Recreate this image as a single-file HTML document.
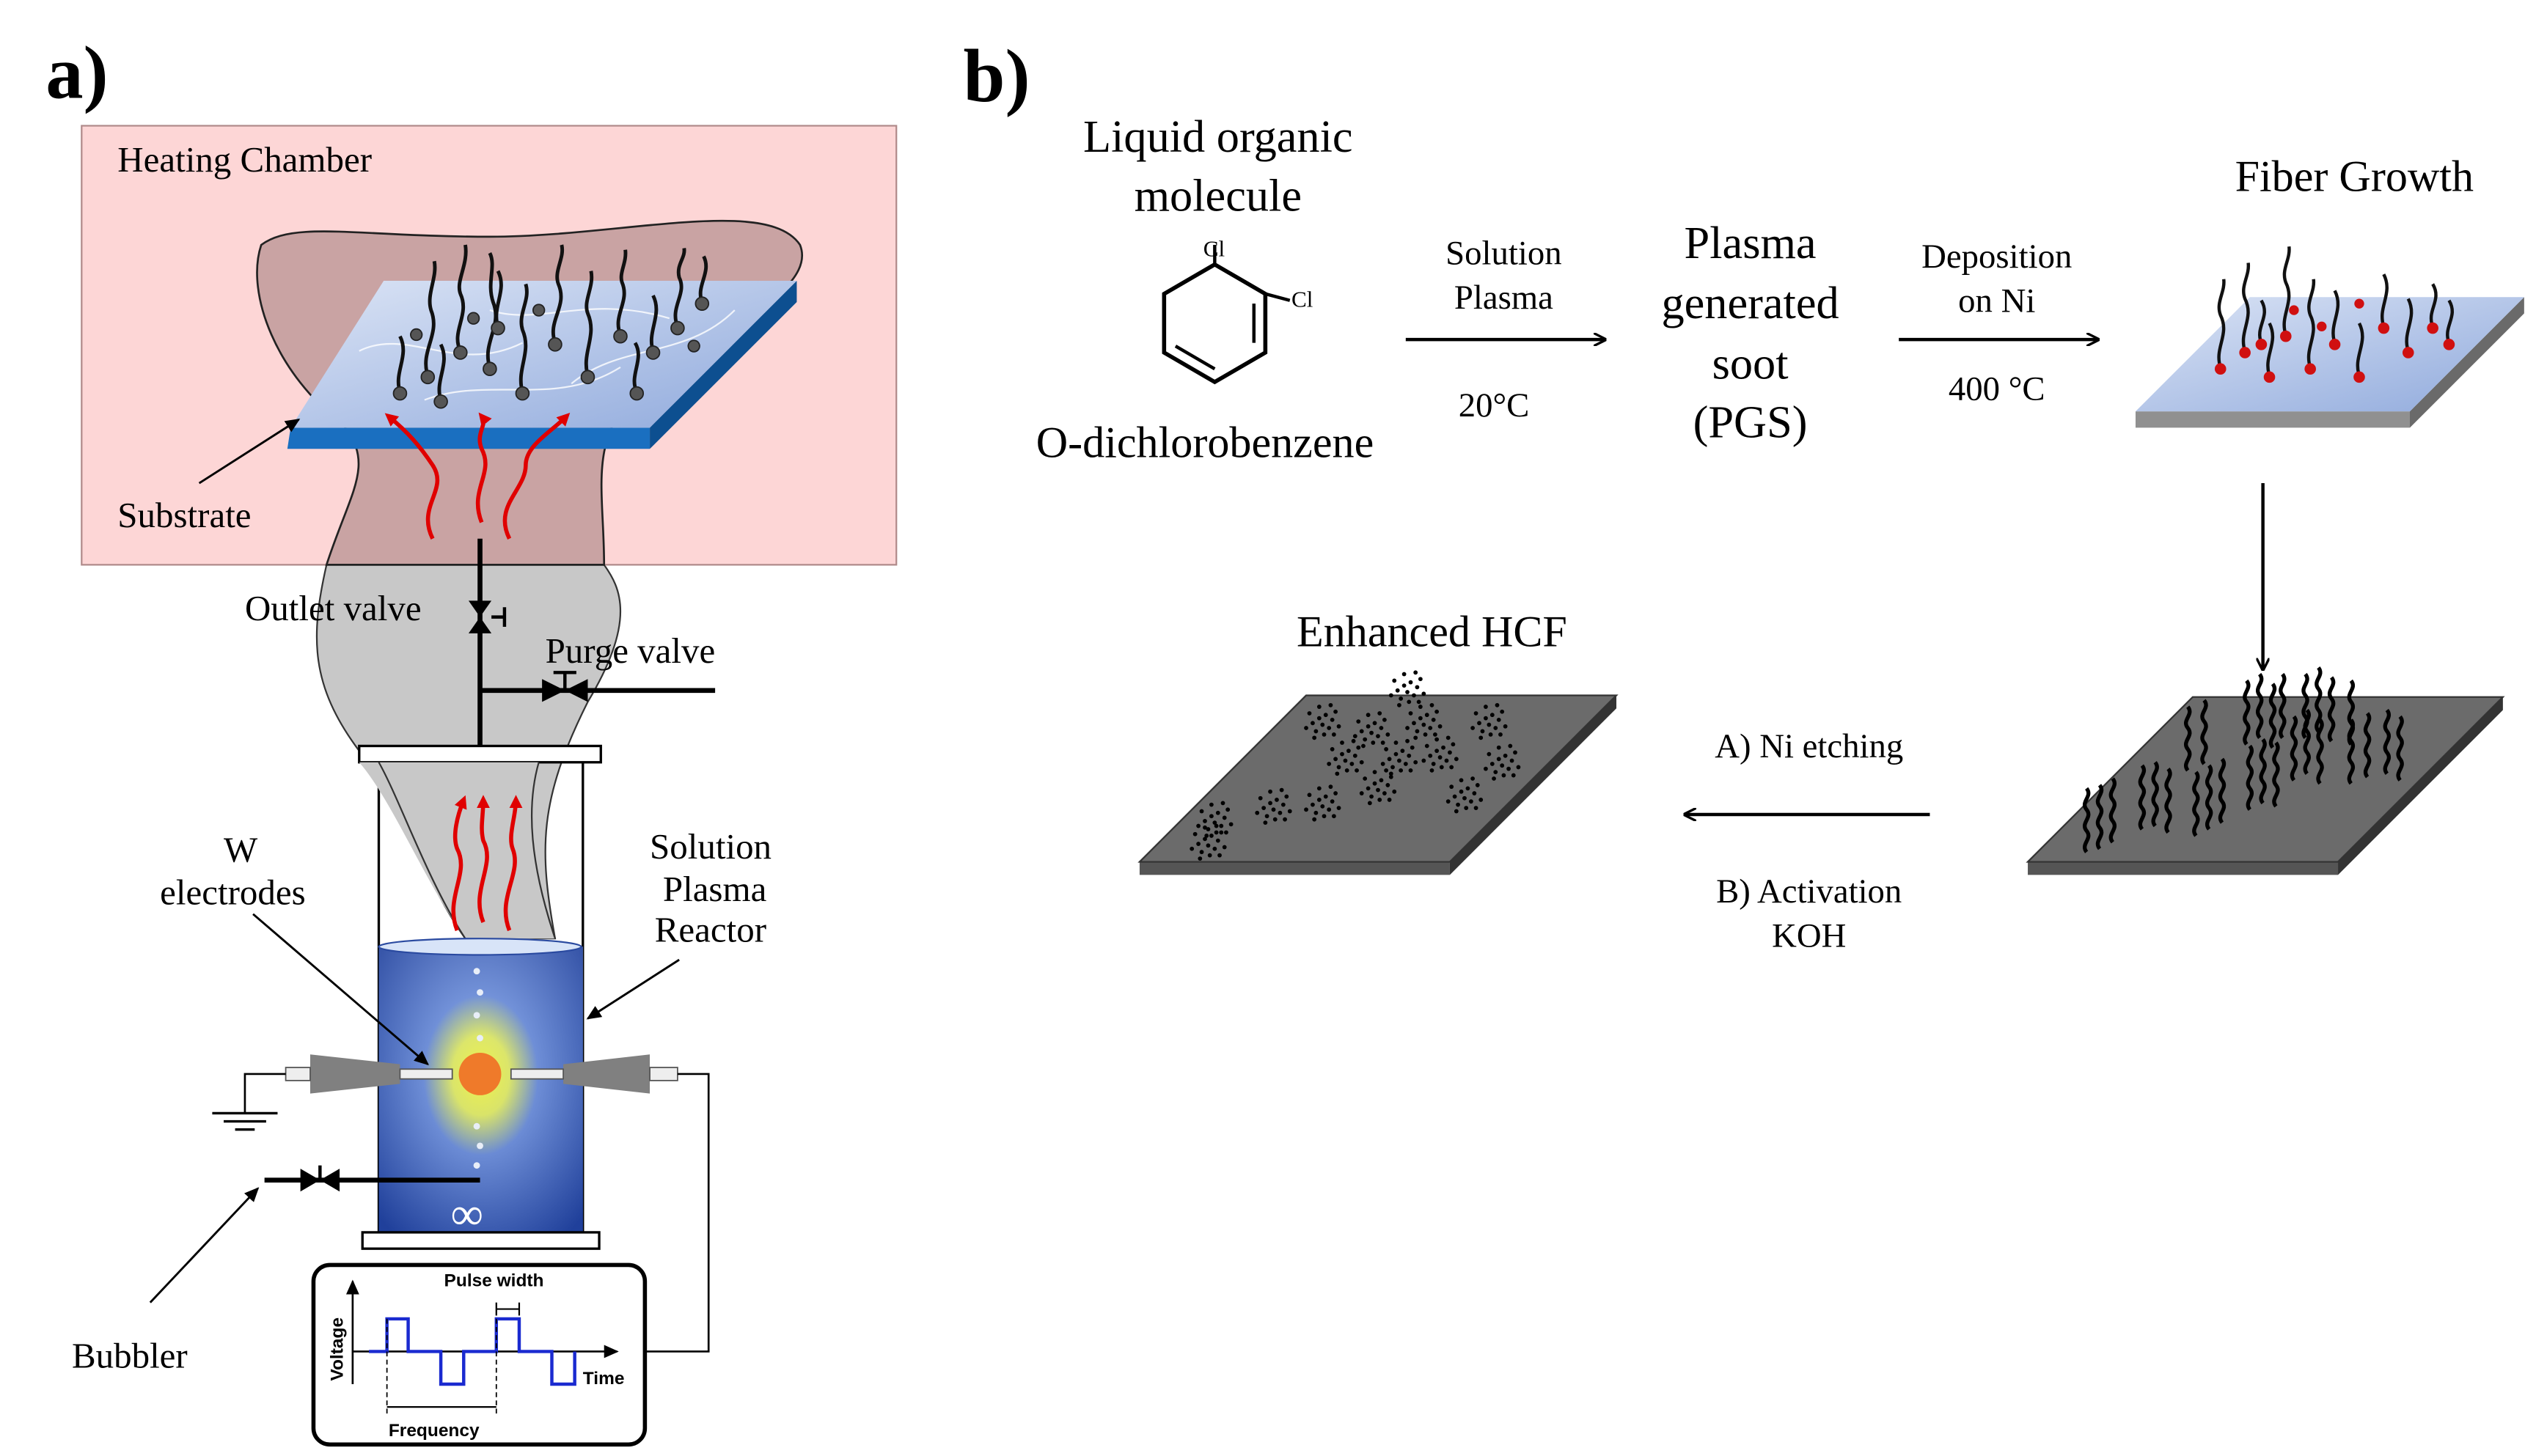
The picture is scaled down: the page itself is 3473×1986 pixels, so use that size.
<!DOCTYPE html>
<html><head><meta charset="utf-8"><style>
html,body{margin:0;padding:0;background:#fff;}
svg{display:block;}
text{font-family:"Liberation Serif",serif;fill:#000;}
</style></head><body>
<svg width="3473" height="1986" viewBox="0 0 1560 892" xmlns="http://www.w3.org/2000/svg">
<defs>
<linearGradient id="sub" x1="0" y1="0" x2="1" y2="1"><stop offset="0" stop-color="#dbe4f5"/><stop offset="1" stop-color="#8fa9dc"/></linearGradient>
<radialGradient id="liq" cx="0.5" cy="0.45" r="0.7"><stop offset="0" stop-color="#ffff40"/><stop offset="0.2" stop-color="#e8f060"/><stop offset="0.4" stop-color="#6f8fd8"/><stop offset="1" stop-color="#1f3f9a"/></radialGradient>
<linearGradient id="liqtop" x1="0" y1="0" x2="0" y2="1"><stop offset="0" stop-color="#c8d4f0"/><stop offset="0.3" stop-color="#6f8fd0"/><stop offset="1" stop-color="#2a4aa0"/></linearGradient>
<marker id="ah" markerWidth="8" markerHeight="8" refX="7" refY="4" orient="auto" markerUnits="userSpaceOnUse"><path d="M0,0 L8,4 L0,8" fill="none" stroke="#000" stroke-width="1.5"/></marker>
<marker id="ahr" markerWidth="10" markerHeight="10" refX="5" refY="5" orient="auto" markerUnits="userSpaceOnUse"><path d="M0,1 L8,5 L0,9 z" fill="#e00000"/></marker>
<marker id="ahs" markerWidth="10" markerHeight="10" refX="8" refY="5" orient="auto" markerUnits="userSpaceOnUse"><path d="M0,1 L9,5 L0,9 z" fill="#000"/></marker>
<g id="cl" fill="#000"><circle cx="0" cy="0" r="1.3"/><circle cx="4" cy="-2" r="1.3"/><circle cx="8" cy="1" r="1.3"/><circle cx="-4" cy="3" r="1.3"/><circle cx="2" cy="4" r="1.3"/><circle cx="6" cy="6" r="1.3"/><circle cx="-2" cy="8" r="1.3"/><circle cx="10" cy="-4" r="1.3"/><circle cx="-6" cy="-3" r="1.3"/><circle cx="3" cy="10" r="1.3"/><circle cx="-8" cy="6" r="1.3"/><circle cx="12" cy="5" r="1.3"/><circle cx="0" cy="-7" r="1.3"/><circle cx="7" cy="-8" r="1.3"/><circle cx="-3" cy="12" r="1.3"/><circle cx="9" cy="10" r="1.3"/></g>
<path id="fb" d="M0,0 c-4,-5 4,-8 0,-13 c-4,-5 4,-8 0,-13 c-4,-5 4,-8 0,-13" fill="none" stroke="#000" stroke-width="2.4"/>
</defs>
<text x="28" y="60" font-size="46" font-weight="bold">a)</text>
<text x="590" y="62" font-size="46" font-weight="bold">b)</text>

<path d="M200,346 C190,390 190,420 220,460 C250,500 260,540 285,575 L340,575 C330,520 330,490 360,430 C390,380 380,360 370,346 Z" fill="#c8c8c8" stroke="#333" stroke-width="1"/>
<rect x="50" y="77" width="499" height="269" fill="#fdd6d6" stroke="#b08a8a" stroke-width="1"/>
<text x="72" y="105" font-size="22">Heating Chamber</text>
<path d="M200,346 C215,300 230,285 210,260 C170,230 150,180 160,150 C180,135 220,145 300,145 C380,145 470,120 490,150 C500,175 450,200 390,240 C360,270 370,300 370,346 Z" fill="#c9a3a3" stroke="#222" stroke-width="1.2"/>
<polygon points="178,262 398,262 398,275 176,275" fill="#1a6fc0"/>
<polygon points="398,262 488,172 488,185 398,275" fill="#0d4f90"/>
<polygon points="235,172 488,172 398,262 178,262" fill="url(#sub)"/>
<g stroke="#fff" stroke-width="1" fill="none" opacity="0.8">
<path d="M220,215 C250,200 280,230 320,210 M260,245 C300,230 340,250 380,225 M300,190 C330,200 360,180 410,195 M350,235 C380,210 420,220 450,190"/>
</g>
<g stroke="#111" stroke-width="2.2" fill="none">
<path d="M262,230 c-5,-15 8,-25 2,-40 c-3,-10 4,-20 2,-30"/>
<path d="M282,215 c-6,-12 6,-22 0,-35 c-3,-8 5,-18 3,-30"/>
<path d="M300,225 c-5,-15 8,-25 2,-40 c-4,-12 2,-22 -2,-30"/>
<path d="M320,240 c-4,-14 6,-24 0,-38 c-3,-10 5,-18 2,-28"/>
<path d="M340,210 c-5,-14 8,-22 2,-36 c-3,-8 4,-16 2,-24"/>
<path d="M245,240 c-4,-12 6,-22 0,-34"/>
<path d="M360,230 c-4,-14 6,-24 0,-38 c-3,-8 4,-16 2,-26"/>
<path d="M380,205 c-5,-12 6,-20 1,-32 c-2,-6 3,-12 2,-20"/>
<path d="M400,215 c-4,-12 6,-22 0,-34"/>
<path d="M415,200 c-5,-12 6,-20 1,-30 c-2,-8 4,-12 3,-18"/>
<path d="M430,185 c-4,-10 6,-18 1,-28"/>
<path d="M305,200 c-4,-12 6,-22 0,-34"/>
<path d="M270,245 c-4,-12 6,-22 0,-34"/>
<path d="M390,240 c-5,-10 5,-20 -1,-30"/>
</g>
<g fill="#555" stroke="#222" stroke-width="0.8">
<circle cx="262" cy="231" r="4"/><circle cx="282" cy="216" r="4"/><circle cx="300" cy="226" r="4"/><circle cx="320" cy="241" r="4"/><circle cx="340" cy="211" r="4"/><circle cx="245" cy="241" r="4"/><circle cx="360" cy="231" r="4"/><circle cx="380" cy="206" r="4"/><circle cx="400" cy="216" r="4"/><circle cx="415" cy="201" r="4"/><circle cx="430" cy="186" r="4"/><circle cx="305" cy="201" r="4"/><circle cx="270" cy="246" r="4"/><circle cx="390" cy="241" r="4"/><circle cx="255" cy="205" r="3.5"/><circle cx="330" cy="190" r="3.5"/><circle cx="425" cy="212" r="3.5"/><circle cx="290" cy="195" r="3.5"/>
</g>
<text x="72" y="323" font-size="22">Substrate</text>
<line x1="122" y1="296" x2="183" y2="257" stroke="#000" stroke-width="1.3" marker-end="url(#ahs)"/>
<g stroke="#e00000" stroke-width="2.5" fill="none" marker-end="url(#ahr)">
<path d="M265,330 c-10,-20 10,-30 0,-45 c-8,-12 -15,-20 -27,-30"/>
<path d="M295,320 c-8,-20 8,-30 0,-45 c-4,-10 4,-15 0,-20"/>
<path d="M312,330 c-10,-20 10,-30 10,-45 c0,-12 15,-20 25,-30"/>
</g>
<line x1="294" y1="330" x2="294" y2="468" stroke="#000" stroke-width="3"/>
<polygon points="287,368 301,368 294,378" fill="#000"/><polygon points="287,388 301,388 294,378" fill="#000"/>
<line x1="301" y1="378" x2="309" y2="378" stroke="#000" stroke-width="2"/><line x1="309" y1="372" x2="309" y2="384" stroke="#000" stroke-width="2"/>
<text x="150" y="380" font-size="22">Outlet valve</text>
<line x1="294" y1="423" x2="438" y2="423" stroke="#000" stroke-width="3"/>
<polygon points="332,416 332,430 346,423" fill="#000"/><polygon points="360,416 360,430 346,423" fill="#000"/>
<line x1="346" y1="423" x2="346" y2="412" stroke="#000" stroke-width="2"/><line x1="339" y1="412" x2="353" y2="412" stroke="#000" stroke-width="2"/>
<text x="334" y="406" font-size="22">Purge valve</text>
<rect x="287" y="466" width="14" height="12" fill="#000"/>
<rect x="220" y="457" width="148" height="10" fill="#fff" stroke="#000" stroke-width="1.5"/>
<line x1="232" y1="467" x2="232" y2="755" stroke="#000" stroke-width="1.5"/>
<line x1="357" y1="467" x2="357" y2="755" stroke="#000" stroke-width="1.5"/>
<path d="M220,467 C240,490 260,540 285,575 L340,575 C325,530 322,495 330,467 Z" fill="#c8c8c8"/>
<path d="M232,467 C245,490 262,540 285,575" fill="none" stroke="#333" stroke-width="1"/>
<path d="M340,575 C325,530 322,495 330,467" fill="none" stroke="#333" stroke-width="1"/>
<g stroke="#e00000" stroke-width="2.5" fill="none" marker-end="url(#ahr)">
<path d="M280,570 c-8,-20 8,-35 0,-50 c-3,-8 0,-20 4,-30"/>
<path d="M296,565 c-8,-20 8,-35 0,-50 c-2,-8 0,-15 0,-25"/>
<path d="M312,570 c-8,-20 8,-35 2,-50 c-3,-8 2,-20 2,-30"/>
</g>
<rect x="232" y="580" width="125" height="175" fill="url(#liqtop)"/>
<rect x="232" y="580" width="125" height="175" fill="url(#liq)" opacity="0.9"/>
<ellipse cx="294" cy="580" rx="62" ry="5" fill="#d8e4f8" stroke="#2a4aa0" stroke-width="1"/>
<g fill="#e8eef8"><circle cx="292" cy="595" r="2"/><circle cx="294" cy="608" r="2"/><circle cx="292" cy="622" r="2"/><circle cx="294" cy="636" r="2"/><circle cx="292" cy="690" r="2"/><circle cx="294" cy="702" r="2"/><circle cx="292" cy="714" r="2"/></g>
<circle cx="294" cy="658" r="13" fill="#ef7a2a"/>
<text x="276" y="753" font-size="28" style="fill:#fff">∞</text>
<rect x="222" y="755" width="145" height="10" fill="#fff" stroke="#000" stroke-width="1.5"/>
<polygon points="190,646 245,652 245,664 190,670" fill="#808080"/>
<rect x="245" y="655" width="32" height="6" fill="#eee" stroke="#555" stroke-width="0.8"/>
<rect x="175" y="654" width="15" height="8" fill="#eee" stroke="#555" stroke-width="0.8"/>
<polygon points="398,646 345,652 345,664 398,670" fill="#808080"/>
<rect x="313" y="655" width="32" height="6" fill="#eee" stroke="#555" stroke-width="0.8"/>
<rect x="398" y="654" width="17" height="8" fill="#eee" stroke="#555" stroke-width="0.8"/>
<path d="M175,658 H150 V682" fill="none" stroke="#000" stroke-width="1.2"/>
<line x1="130" y1="682" x2="170" y2="682" stroke="#000" stroke-width="1.5"/>
<line x1="137" y1="687" x2="163" y2="687" stroke="#000" stroke-width="1.5"/>
<line x1="144" y1="692" x2="156" y2="692" stroke="#000" stroke-width="1.5"/>
<path d="M415,658 H434 V828 H396" fill="none" stroke="#000" stroke-width="1.2"/>
<line x1="162" y1="723" x2="294" y2="723" stroke="#000" stroke-width="3"/>
<polygon points="184,716 184,730 196,723" fill="#000"/><polygon points="208,716 208,730 196,723" fill="#000"/>
<line x1="196" y1="723" x2="196" y2="714" stroke="#000" stroke-width="2"/>
<line x1="92" y1="798" x2="158" y2="728" stroke="#000" stroke-width="1.3" marker-end="url(#ahs)"/>
<text x="44" y="838" font-size="22">Bubbler</text>
<text x="137" y="528" font-size="22">W</text>
<text x="98" y="554" font-size="22">electrodes</text>
<line x1="155" y1="560" x2="262" y2="652" stroke="#000" stroke-width="1.3" marker-end="url(#ahs)"/>
<text x="398" y="526" font-size="22">Solution</text>
<text x="406" y="552" font-size="22">Plasma</text>
<text x="401" y="577" font-size="22">Reactor</text>
<line x1="416" y1="588" x2="360" y2="624" stroke="#000" stroke-width="1.3" marker-end="url(#ahs)"/>
<rect x="192" y="775" width="203" height="110" rx="10" fill="#fff" stroke="#000" stroke-width="2.5"/>
<line x1="216" y1="848" x2="216" y2="785" stroke="#000" stroke-width="1.2" marker-end="url(#ahs)"/>
<line x1="216" y1="828" x2="378" y2="828" stroke="#000" stroke-width="1.2" marker-end="url(#ahs)"/>
<path d="M226,828 H237 V808 H250 V828 H270 V848 H284 V828 H304 V808 H318 V828 H338 V848 H352 V828" fill="none" stroke="#1a2ad0" stroke-width="2"/>
<g stroke="#000" stroke-dasharray="3,2" stroke-width="0.8"><line x1="237" y1="808" x2="237" y2="866"/><line x1="304" y1="808" x2="304" y2="866"/></g>
<line x1="237" y1="862" x2="304" y2="862" stroke="#000" stroke-width="1"/>
<line x1="304" y1="802" x2="318" y2="802" stroke="#000" stroke-width="1"/><line x1="304" y1="798" x2="304" y2="806" stroke="#000"/><line x1="318" y1="798" x2="318" y2="806" stroke="#000"/>
<g font-weight="bold" font-size="11">
<text x="272" y="788" style="font-family:'Liberation Sans',sans-serif">Pulse width</text>
<text x="238" y="880" style="font-family:'Liberation Sans',sans-serif">Frequency</text>
<text x="357" y="848" style="font-family:'Liberation Sans',sans-serif">Time</text>
<text transform="translate(210,846) rotate(-90)" style="font-family:'Liberation Sans',sans-serif">Voltage</text>
</g>

<text x="746" y="93" font-size="28" text-anchor="middle">Liquid organic</text>
<text x="746" y="129" font-size="28" text-anchor="middle">molecule</text>
<polygon points="744,162 775,180 775,216 744,234 713,216 713,180" fill="none" stroke="#000" stroke-width="2.5"/>
<line x1="768" y1="186" x2="768" y2="210" stroke="#000" stroke-width="2"/>
<line x1="720" y1="212" x2="744" y2="226" stroke="#000" stroke-width="2"/>
<line x1="744" y1="162" x2="744" y2="150" stroke="#000" stroke-width="2"/>
<line x1="775" y1="180" x2="790" y2="184" stroke="#000" stroke-width="2"/>
<text x="737" y="157" font-size="14">Cl</text><text x="791" y="188" font-size="14">Cl</text>
<text x="738" y="280" font-size="27" text-anchor="middle">O-dichlorobenzene</text>
<text x="921" y="162" font-size="21" text-anchor="middle">Solution</text>
<text x="921" y="189" font-size="21" text-anchor="middle">Plasma</text>
<line x1="861" y1="208" x2="983" y2="208" stroke="#000" stroke-width="2" marker-end="url(#ah)"/>
<text x="915" y="255" font-size="21" text-anchor="middle">20°C</text>
<text x="1072" y="158" font-size="28" text-anchor="middle">Plasma</text>
<text x="1072" y="195" font-size="28" text-anchor="middle">generated</text>
<text x="1072" y="232" font-size="28" text-anchor="middle">soot</text>
<text x="1072" y="268" font-size="28" text-anchor="middle">(PGS)</text>
<text x="1223" y="164" font-size="21" text-anchor="middle">Deposition</text>
<text x="1223" y="191" font-size="21" text-anchor="middle">on Ni</text>
<line x1="1163" y1="208" x2="1285" y2="208" stroke="#000" stroke-width="2" marker-end="url(#ah)"/>
<text x="1223" y="245" font-size="21" text-anchor="middle">400 °C</text>
<text x="1442" y="117" font-size="27" text-anchor="middle">Fiber Growth</text>
<polygon points="1308,252 1476,252 1476,262 1308,262" fill="#909090"/>
<polygon points="1476,252 1546,182 1546,192 1476,262" fill="#6a6a6a"/>
<polygon points="1378,182 1546,182 1476,252 1308,252" fill="url(#sub)"/>
<g stroke="#111" stroke-width="2" fill="none">
<path d="M1360,225 c-4,-12 6,-20 0,-32 c-3,-8 3,-14 2,-22"/><path d="M1375,215 c-4,-12 6,-20 0,-32 c-3,-8 3,-14 2,-22"/><path d="M1390,230 c-4,-12 6,-20 0,-32"/><path d="M1400,205 c-4,-12 6,-20 0,-32 c-3,-8 3,-14 2,-22"/><path d="M1415,225 c-4,-12 6,-20 0,-32 c-3,-8 3,-14 2,-22"/><path d="M1430,210 c-4,-12 6,-20 0,-32"/><path d="M1445,230 c-4,-12 6,-20 0,-32"/><path d="M1460,200 c-4,-12 6,-20 0,-32"/><path d="M1475,215 c-4,-12 6,-20 0,-32"/><path d="M1490,200 c-4,-10 6,-16 0,-26"/><path d="M1500,210 c-4,-10 6,-16 0,-26"/><path d="M1385,210 c-4,-10 6,-16 0,-26"/>
</g>
<g fill="#d01010"><circle cx="1360" cy="226" r="3.5"/><circle cx="1375" cy="216" r="3.5"/><circle cx="1390" cy="231" r="3.5"/><circle cx="1400" cy="206" r="3.5"/><circle cx="1415" cy="226" r="3.5"/><circle cx="1430" cy="211" r="3.5"/><circle cx="1445" cy="231" r="3.5"/><circle cx="1460" cy="201" r="3.5"/><circle cx="1475" cy="216" r="3.5"/><circle cx="1490" cy="201" r="3.5"/><circle cx="1500" cy="211" r="3.5"/><circle cx="1385" cy="211" r="3.5"/><circle cx="1445" cy="186" r="3"/><circle cx="1405" cy="190" r="3"/><circle cx="1422" cy="200" r="3"/></g>
<line x1="1386" y1="296" x2="1386" y2="410" stroke="#000" stroke-width="2" marker-end="url(#ah)"/>
<polygon points="1242,528 1432,528 1432,536 1242,536" fill="#555"/>
<polygon points="1432,528 1533,427 1533,435 1432,536" fill="#333"/>
<polygon points="1343,427 1533,427 1432,528 1242,528" fill="#6b6b6b" stroke="#333" stroke-width="1"/>
<use href="#fb" x="1278" y="522"/><use href="#fb" x="1286" y="520"/><use href="#fb" x="1294" y="516"/>
<use href="#fb" x="1312" y="508"/><use href="#fb" x="1320" y="506"/><use href="#fb" x="1328" y="510"/>
<use href="#fb" x="1345" y="512"/><use href="#fb" x="1353" y="508"/><use href="#fb" x="1361" y="504"/>
<use href="#fb" x="1340" y="472"/><use href="#fb" x="1350" y="468"/>
<use href="#fb" x="1378" y="496"/><use href="#fb" x="1386" y="492"/><use href="#fb" x="1394" y="494"/>
<use href="#fb" x="1376" y="456"/><use href="#fb" x="1384" y="452"/><use href="#fb" x="1392" y="458"/>
<use href="#fb" x="1405" y="478"/><use href="#fb" x="1413" y="474"/><use href="#fb" x="1421" y="480"/>
<use href="#fb" x="1412" y="452"/><use href="#fb" x="1420" y="448"/><use href="#fb" x="1428" y="454"/>
<use href="#fb" x="1440" y="480"/><use href="#fb" x="1450" y="476"/><use href="#fb" x="1462" y="474"/><use href="#fb" x="1470" y="478"/>
<use href="#fb" x="1440" y="456"/><use href="#fb" x="1398" y="452"/>
<line x1="1182" y1="499" x2="1032" y2="499" stroke="#000" stroke-width="2" marker-end="url(#ah)"/>
<text x="1108" y="464" font-size="21" text-anchor="middle">A) Ni etching</text>
<text x="1108" y="553" font-size="21" text-anchor="middle">B) Activation</text>
<text x="1108" y="580" font-size="21" text-anchor="middle">KOH</text>
<text x="877" y="396" font-size="27" text-anchor="middle">Enhanced HCF</text>
<polygon points="698,528 888,528 888,536 698,536" fill="#555"/>
<polygon points="888,528 990,426 990,434 888,536" fill="#333"/>
<polygon points="800,426 990,426 888,528 698,528" fill="#6b6b6b" stroke="#333" stroke-width="1"/>
<use href="#cl" x="742" y="500"/><use href="#cl" x="738" y="514"/><use href="#cl" x="778" y="492"/><use href="#cl" x="808" y="490"/><use href="#cl" x="842" y="480"/><use href="#cl" x="808" y="440"/><use href="#cl" x="838" y="445"/><use href="#cl" x="870" y="440"/><use href="#cl" x="880" y="460"/><use href="#cl" x="895" y="485"/><use href="#cl" x="910" y="440"/><use href="#cl" x="918" y="465"/><use href="#cl" x="860" y="420"/><use href="#cl" x="822" y="462"/><use href="#cl" x="855" y="462"/>
</svg>
</body></html>
